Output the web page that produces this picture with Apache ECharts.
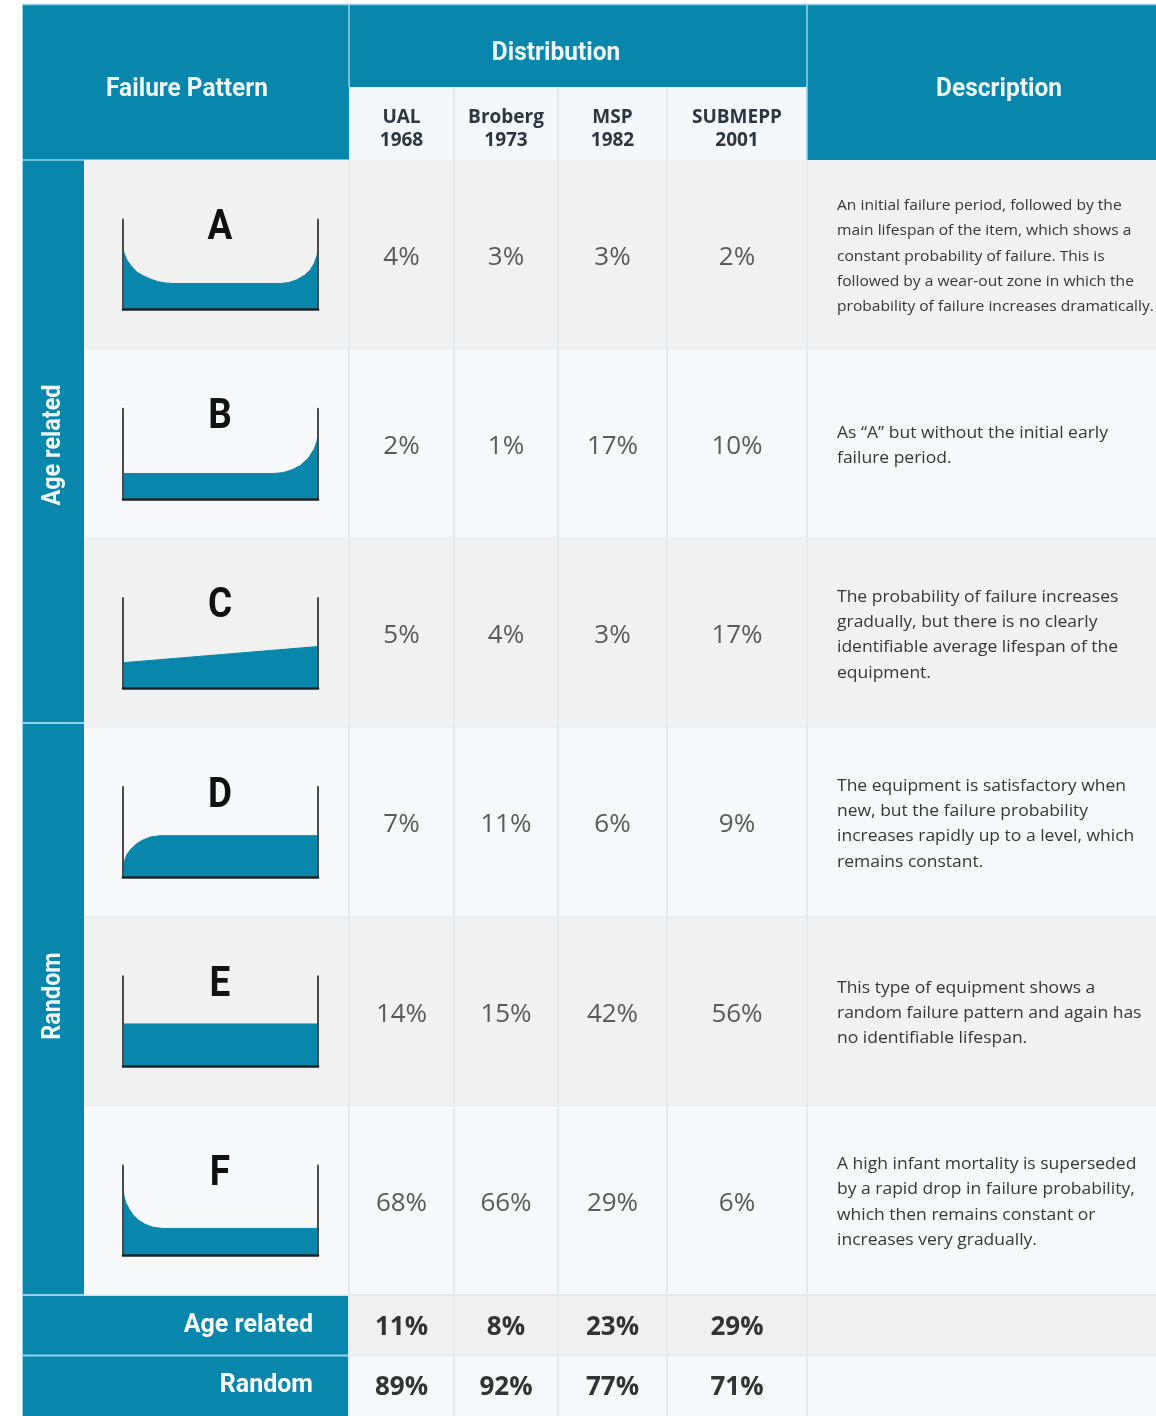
<!DOCTYPE html>
<html>
<head>
<meta charset="utf-8">
<title>Failure patterns</title>
<script src="https://cdn.jsdelivr.net/npm/echarts@6/dist/echarts.min.js"></script>
<style>
  html, body { margin: 0; padding: 0; background: #fff; }
  #chart { width: 1156px; height: 1416px; }
</style>
</head>
<body>
<div id="chart"></div>
<script>
/* data */
const patterns = ['A', 'B', 'C', 'D', 'E', 'F']
const groups = ['Age related', 'Random']
const studies = ['UAL\n1968', 'Broberg\n1973', 'MSP\n1982', 'SUBMEPP\n2001']
const ual = [4, 2, 5, 7, 14, 68]
const broberg = [3, 1, 4, 11, 15, 66]
const msp = [3, 17, 3, 6, 42, 29]
const submepp = [2, 10, 17, 9, 56, 6]
const ageRelatedTotals = [11, 8, 23, 29]
const randomTotals = [89, 92, 77, 71]

// curve shapes: x = age (0..1), y = failure probability (0..1)
const curveA = [[0, 0.71], [0.005, 0.63], [0.02, 0.55], [0.04, 0.49], [0.07, 0.42], [0.1, 0.38], [0.14, 0.34],
  [0.18, 0.31], [0.22, 0.295], [0.26, 0.29], [0.81, 0.29], [0.85, 0.3], [0.89, 0.33], [0.93, 0.38],
  [0.96, 0.44], [0.98, 0.51], [0.995, 0.6], [1, 0.69]]
const curveB = [[0, 0.28], [0.77, 0.28], [0.82, 0.29], [0.87, 0.325], [0.91, 0.37], [0.95, 0.45],
  [0.98, 0.55], [0.995, 0.64], [1, 0.73]]
const curveC = [[0, 0.28], [1, 0.46]]
const curveD = [[0, 0.05], [0.005, 0.16], [0.02, 0.25], [0.04, 0.31], [0.07, 0.37], [0.1, 0.41],
  [0.14, 0.445], [0.19, 0.46], [1, 0.46]]
const curveE = [[0, 0.47], [1, 0.47]]
const curveF = [[0, 0.76], [0.005, 0.66], [0.015, 0.585], [0.03, 0.52], [0.05, 0.455], [0.08, 0.39],
  [0.11, 0.35], [0.15, 0.315], [0.2, 0.3], [1, 0.3]]

const descriptions = [
  'An initial failure period, followed by the\nmain lifespan of the item, which shows a\nconstant probability of failure. This is\nfollowed by a wear-out zone in which the\nprobability of failure increases dramatically.',
  'As \u201cA\u201d but without the initial early\nfailure period.',
  'The probability of failure increases\ngradually, but there is no clearly\nidentifiable average lifespan of the\nequipment.',
  'The equipment is satisfactory when\nnew, but the failure probability\nincreases rapidly up to a level, which\nremains constant.',
  'This type of equipment shows a\nrandom failure pattern and again has\nno identifiable lifespan.',
  'A high infant mortality is superseded\nby a rapid drop in failure probability,\nwhich then remains constant or\nincreases very gradually.'
]

const studyValues = [ual, broberg, msp, submepp]
const groupTotals = [ageRelatedTotals, randomTotals]
const curves = [curveA, curveB, curveC, curveD, curveE, curveF]

/* layout / style */
const TEAL = '#0886ab'
const EDGE = '#93d5ec'
const DIV = '#e3e9ed'
const ROW_ODD = '#f1f1f1'
const ROW_EVEN = '#f6f8fa'
const COND = 'Roboto, "Liberation Sans", sans-serif'
const SANS = '"Open Sans", "Noto Sans", sans-serif'
const colX = [349, 454, 558, 667, 807]
const bodyTop = 160, bodyH = 1135, footTop = 1295, footH = 121
const rowH = bodyH / patterns.length

const grid = [], xAxis = [], yAxis = [], series = []

// 加一个坐标系, 返回轴索引
const addGrid = (g, xs, ys) => {
  grid.push(g)
  const gridIndex = grid.length - 1
  const xi = xAxis.length, yi = yAxis.length
  xs.forEach(a => xAxis.push({ ...a, gridIndex }))
  ys.forEach(a => yAxis.push({ ...a, gridIndex }))
  return { xi, yi }
}
const hiddenValue = { type: 'value', min: 0, max: 1, show: false }
const hiddenRows = { type: 'category', data: patterns, inverse: true, show: false }
const hiddenGroups = { type: 'category', data: groups, inverse: true, show: false }

const bandLine = (x1, y1, x2, y2, color, w) => ({
  type: 'line', shape: { x1, y1, x2, y2 }, style: { stroke: color, lineWidth: w || 1.5 }
})

/* row backgrounds */
let ax = addGrid({ left: 84, top: bodyTop, width: 1156 - 84, height: bodyH }, [hiddenValue], [hiddenRows])
series.push({
  type: 'custom', xAxisIndex: ax.xi, yAxisIndex: ax.yi, z: 1, silent: true,
  data: patterns.map((p, i) => [0, i]),
  renderItem: (params, api) => {
    const cs = params.coordSys
    const i = api.value(1)
    const c = api.coord([0, i])
    const h = api.size([0, 1])[1]
    return {
      type: 'group',
      children: [
        { type: 'rect', shape: { x: cs.x, y: c[1] - h / 2, width: cs.width, height: h }, style: { fill: i % 2 ? ROW_EVEN : ROW_ODD } },
        bandLine(cs.x, c[1] + h / 2, cs.x + cs.width, c[1] + h / 2, DIV)
      ]
    }
  }
})

/* study columns */
studyValues.forEach((vals, j) => {
  const w = colX[j + 1] - colX[j]
  const a = addGrid({ left: colX[j], top: bodyTop, width: w, height: bodyH }, [{
    type: 'category', data: [studies[j]], position: 'top', z: 5,
    axisLine: { show: false }, axisTick: { show: false }, splitLine: { show: false },
    axisLabel: { margin: 8, fontFamily: SANS, fontWeight: 'bold', fontSize: 19, lineHeight: 23, color: '#2b3640' }
  }], [hiddenRows])
  series.push({
    type: 'custom', xAxisIndex: a.xi, yAxisIndex: a.yi, z: 2, silent: true,
    data: vals.map((v, i) => [0, i, v]),
    renderItem: (params, api) => {
      const c = api.coord([0, api.value(1)])
      const s = api.size([1, 1])
      return {
        type: 'group',
        children: [
          bandLine(c[0] - s[0] / 2, c[1] - s[1] / 2, c[0] - s[0] / 2, c[1] + s[1] / 2, DIV, 2),
          {
            type: 'text', x: c[0], y: c[1] + 3,
            style: { text: api.value(2) + '%', fill: '#5a5a5a', fontFamily: SANS, fontSize: 26, align: 'center', verticalAlign: 'middle' }
          }
        ]
      }
    }
  })

  // totals rows
  const f = addGrid({ left: colX[j], top: footTop, width: w, height: footH }, [{ type: 'category', data: [studies[j]], show: false }], [
    j === 0
      ? {
          type: 'category', data: groups, inverse: true, z: 5,
          axisLine: { show: false }, axisTick: { show: false },
          axisLabel: { margin: 36, color: '#fff', fontFamily: COND, fontWeight: 'bold', fontSize: 25, padding: [8, 0, 0, 0] }
        }
      : hiddenGroups
  ])
  series.push({
    type: 'custom', xAxisIndex: f.xi, yAxisIndex: f.yi, z: 2, silent: true,
    data: groupTotals.map((t, g) => [0, g, t[j]]),
    renderItem: (params, api) => {
      const c = api.coord([0, api.value(1)])
      const s = api.size([1, 1])
      return {
        type: 'group',
        children: [
          bandLine(c[0] - s[0] / 2, c[1] - s[1] / 2, c[0] - s[0] / 2, c[1] + s[1] / 2, DIV, 2),
          {
            type: 'text', x: c[0], y: c[1] + 2,
            style: { text: api.value(2) + '%', fill: '#333', fontFamily: SANS, fontWeight: 'bold', fontSize: 26, align: 'center', verticalAlign: 'middle' }
          }
        ]
      }
    }
  })
})

/* totals row backgrounds */
ax = addGrid({ left: colX[0], top: footTop, width: 1156 - colX[0], height: footH }, [hiddenValue], [hiddenGroups])
series.push({
  type: 'custom', xAxisIndex: ax.xi, yAxisIndex: ax.yi, z: 1, silent: true,
  data: groups.map((g, i) => [0, i]),
  renderItem: (params, api) => {
    const cs = params.coordSys
    const i = api.value(1)
    const c = api.coord([0, i])
    const h = api.size([0, 1])[1]
    return {
      type: 'group',
      children: [
        { type: 'rect', shape: { x: cs.x, y: c[1] - h / 2, width: cs.width, height: h }, style: { fill: i ? ROW_EVEN : '#f0f0f0' } },
        bandLine(cs.x, c[1] - h / 2, cs.x + cs.width, c[1] - h / 2, DIV),
        bandLine(colX[4], c[1] - h / 2, colX[4], c[1] + h / 2, DIV, 2)
      ]
    }
  }
})

/* descriptions */
ax = addGrid({ left: colX[4], top: bodyTop, width: 1156 - colX[4], height: bodyH }, [hiddenValue], [hiddenRows])
series.push({
  type: 'custom', xAxisIndex: ax.xi, yAxisIndex: ax.yi, z: 2, silent: true,
  data: descriptions.map((d, i) => [0, i]),
  renderItem: (params, api) => {
    const cs = params.coordSys
    const i = api.value(1)
    const c = api.coord([0, i])
    const h = api.size([0, 1])[1]
    return {
      type: 'group',
      children: [
        bandLine(cs.x, c[1] - h / 2, cs.x, c[1] + h / 2, DIV, 2),
        {
          type: 'text', x: cs.x + 30, y: c[1] + 2, scaleX: i === 0 ? 1.075 : 1.06,
          style: {
            text: descriptions[i], fill: '#363636', fontFamily: SANS,
            fontSize: i === 0 ? 14.5 : 16.5, lineHeight: 25.3, align: 'left', verticalAlign: 'middle'
          }
        }
      ]
    }
  }
})

/* failure pattern icons */
const letters = []
curves.forEach((curve, i) => {
  const top = bodyTop + rowH * (i + 0.5) - 35
  const frame = { show: true, onZero: false, lineStyle: { color: '#4a4a4a', width: 2 } }
  const a = addGrid({ left: 123, top, width: 195, height: 90 }, [{
    type: 'value', min: 0, max: 1, z: 5,
    axisLine: { show: true, onZero: false, lineStyle: { color: '#1b2328', width: 2.5 } },
    axisTick: { show: false }, axisLabel: { show: false }, splitLine: { show: false }
  }], [
    { type: 'value', min: 0, max: 1, position: 'left', z: 5, axisLine: frame, axisTick: { show: false }, axisLabel: { show: false }, splitLine: { show: false } },
    { type: 'value', min: 0, max: 1, position: 'right', z: 5, axisLine: frame, axisTick: { show: false }, axisLabel: { show: false }, splitLine: { show: false } }
  ])
  series.push({
    type: 'line', name: patterns[i], xAxisIndex: a.xi, yAxisIndex: a.yi, z: 3, silent: true,
    data: curve, showSymbol: false, smooth: false,
    lineStyle: { color: TEAL, width: 1 },
    areaStyle: { color: TEAL, opacity: 1 }
  })
  letters.push({
    type: 'text', x: 220, y: top + 9, z: 10, scaleX: 0.88,
    style: { text: patterns[i], fill: '#111', fontFamily: COND, fontWeight: 'bold', fontSize: 42, align: 'center', verticalAlign: 'middle' }
  })
})

/* table chrome */
const headText = (text, x, y, extra) => ({
  type: 'text', x, y, z: 10, scaleX: 0.94, ...extra,
  style: { text, fill: '#eef8fc', fontFamily: COND, fontWeight: 'bold', fontSize: 26, align: 'center', verticalAlign: 'middle' }
})
const gRect = (x, y, width, height, fill) => ({ type: 'rect', z: 0, shape: { x, y, width, height }, style: { fill } })
const gLine = (x1, y1, x2, y2, stroke, w) => ({ type: 'line', z: 1, shape: { x1, y1, x2, y2 }, style: { stroke, lineWidth: w || 1.5 } })

const graphic = [
  gRect(22, 5, colX[0] - 22, bodyTop - 5, TEAL),
  gRect(colX[0], 5, colX[4] - colX[0], 82, TEAL),
  gRect(colX[4], 5, 1156 - colX[4], bodyTop - 5, TEAL),
  gRect(colX[0], 87, colX[4] - colX[0], bodyTop - 87, '#f5f8fa'),
  gRect(22, bodyTop, 62, bodyH, TEAL),
  gRect(22, footTop, colX[0] - 22, footH, TEAL),
  gLine(22, 4.5, 1156, 4.5, EDGE),
  gLine(22.5, 5, 22.5, 1416, EDGE, 1),
  gLine(colX[0], 5, colX[0], 87, EDGE),
  gLine(colX[4], 5, colX[4], bodyTop, EDGE),
  gLine(22, bodyTop, colX[0], bodyTop, EDGE),
  gLine(22, 723, 84, 723, EDGE, 2),
  gLine(22, footTop, colX[0], footTop, EDGE, 2),
  gLine(22, footTop + footH / 2, colX[0], footTop + footH / 2, EDGE, 2),
  ...colX.slice(1, 4).map(x => gLine(x, 87, x, bodyTop, DIV, 2)),
  headText('Failure Pattern', 187, 89),
  headText('Distribution', 556, 53),
  headText('Description', 999, 89),
  headText(groups[0], 53, 445, { rotation: Math.PI / 2, scaleX: 0.9 }),
  headText(groups[1], 53, 996, { rotation: Math.PI / 2, scaleX: 0.9 }),
  ...letters
]

const myChart = echarts.init(document.getElementById('chart'))
myChart.setOption({
  animation: false,
  backgroundColor: '#fff',
  grid,
  xAxis,
  yAxis,
  graphic,
  series
})
</script>
</body>
</html>
